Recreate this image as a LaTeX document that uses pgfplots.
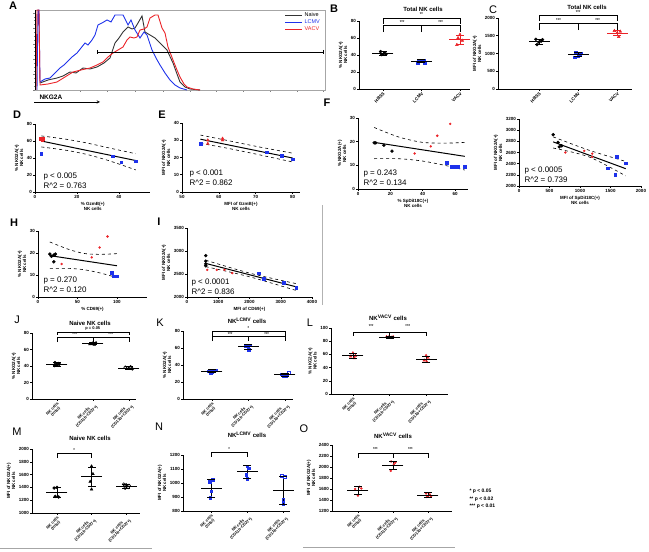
\documentclass[border=0pt]{standalone}
\usepackage{fontspec}
\setmainfont{Liberation Sans}
\usepackage{pgfplots}
\pgfplotsset{compat=1.18}
\definecolor{gpblue}{RGB}{30,50,235}
\definecolor{gpred}{RGB}{235,35,40}
\newcommand\tk{\fontsize{4.5}{5}\selectfont\bfseries}
\newcommand\tkc{\fontsize{4}{4.3}\selectfont\bfseries}
\newcommand\pv{\fontsize{8}{8.5}\selectfont}
\newcommand\ttl{\fontsize{6}{7}\selectfont\bfseries}
\newcommand\st{\fontsize{4}{4}\selectfont\bfseries}
\newcommand\lt{\fontsize{11}{11}\selectfont\bfseries}
\newcommand\ltn{\fontsize{11}{11}\selectfont}
\pgfplotsset{
 gp/.style={scale only axis, anchor=south west, clip=false, axis lines*=left,
   axis line style={-, line width=0.7pt}, tick align=outside, major tick length=2pt,
   every tick/.style={black, line width=0.5pt}, tick label style={font=\tk},
   label style={font=\tk}, xlabel style={align=center, yshift=1pt},
   ylabel style={align=center, yshift=-1pt},
   /pgf/number format/assume math mode=true, /pgf/number format/1000 sep={},
   xticklabel style={inner sep=1pt}, yticklabel style={inner sep=1pt}},
 cat/.style={gp, xtick={0,1,2}, xticklabel style={rotate=45, anchor=north east, align=center, inner sep=0.5pt, font=\tkc}},
 hb/.style={only marks, mark=*, mark size=1.5pt, black},
 hbo/.style={only marks, mark=o, mark size=1.5pt, black, mark options={line width=0.5pt}},
 hbt/.style={only marks, mark=triangle*, mark size=1.6pt, black},
 lc/.style={only marks, mark=square*, mark size=1.3pt, gpblue},
 lco/.style={only marks, mark=square, mark size=1.3pt, gpblue, mark options={line width=0.6pt}},
 va/.style={only marks, mark=triangle*, mark size=1.6pt, gpred},
 vas/.style={only marks, mark=*, mark size=1pt, gpred},
 reg/.style={no marks, line width=1pt, black},
 ci/.style={no marks, dashed, line width=0.6pt, black, smooth},
}
\newcommand\grp[5]{%
  \addplot[#5, no marks, line width=0.7pt] coordinates {(#1,#3) (#1,#4)};
  \addplot[#5, only marks, mark=-, mark size=4pt, mark options={line width=0.7pt}] coordinates {(#1,#3) (#1,#4)};
  \addplot[#5, only marks, mark=-, mark size=10.5pt, mark options={line width=0.7pt}] coordinates {(#1,#2)};
}
\newcommand\brk[4]{\draw[line width=0.5pt] (axis cs:#1,#4) -- (axis cs:#1,#3) -- (axis cs:#2,#3) -- (axis cs:#2,#4);}
\newcommand\sg[3]{\node[font=\st, inner sep=0pt] at (axis cs:#1,#2) {#3};}
\newcommand\nkl{{NK cells\\(total)},{NK cells\\(CD11b-CD27+)},{NK cells\\(CD11b+CD27+)}}
\begin{document}
\begin{tikzpicture}
\path[use as bounding box] (0pt,0pt) rectangle (649pt,552pt);

% ---------------- A
\begin{axis}[at={(35pt,462pt)}, anchor=south west, scale only axis, width=290pt, height=80pt,
  xmin=35, xmax=325, ymin=0, ymax=80, axis line style={gray!70, line width=0.5pt},
  tick pos=left, tick align=outside, xticklabels={}, yticklabels={},
  ytick={0,15.4,30.8,46.2,61.6,77}, minor y tick num=3,
  xtick={80,107,135,163,190,216,243,270,297,323}, major tick length=2pt, minor tick length=1.2pt,
  every tick/.style={gray, line width=0.4pt}, clip=false,
  legend style={at={(rel axis cs:0.99,0.99)}, anchor=north east, draw=none, fill=none,
    font=\fontsize{5.5}{6}\selectfont, row sep=-2.5pt, inner sep=0pt},
  legend cell align=left]
\addplot[black!80, line width=0.9pt] coordinates {(40,7) (48,10) (57,12) (63,14) (70,18) (76,17) (83,22) (90,21) (97,23) (104,27) (110,32) (115,47) (119,52) (123,58) (128,63) (132,61) (135,62) (138,67) (142,74) (145,58) (150,55) (155,52) (160,47) (167,40) (173,27) (177,16) (180,8) (185,3) (190,1) (200,0)};
\addplot[gpblue, line width=0.9pt] coordinates {(37,0) (38,80) (39,80) (40,8) (45,11) (50,12) (55,17) (60,22) (64,25) (67,28) (72,33) (77,37) (81,42) (85,47) (88,45) (92,50) (95,55) (98,65) (102,67) (107,70) (111,68) (115,75) (119,75) (123,75) (128,65) (131,70) (135,60) (140,52) (144,58) (147,55) (152,40) (156,32) (160,25) (165,17) (170,10) (175,5) (180,2) (187,0)};
\addplot[gpred, line width=0.9pt] coordinates {(36,0) (37,80) (39,80) (40,5) (48,6) (57,8) (65,13) (73,18) (81,20) (90,22) (97,25) (103,28) (108,33) (113,37) (118,40) (123,43) (127,50) (130,53) (134,52) (137,53) (140,60) (144,61) (147,63) (150,72) (155,75) (158,75) (162,62) (165,57) (168,43) (173,30) (177,20) (180,13) (184,6) (187,3) (193,1) (200,0)};
\addplot[black, line width=0.6pt, mark=|, mark size=2pt, forget plot] coordinates {(97,38) (323,38)};
\legend{Naive,\textcolor{gpblue}{LCMV},\textcolor{gpred}{VACV}}
\draw[black, line width=0.8pt] (axis cs:35,0) -- (axis cs:35,80);
\end{axis}
\node[font=\fontsize{6.5}{7}\selectfont\bfseries, anchor=west] at (36pt,455pt) {NKG2A};
\draw[-stealth, line width=0.5pt] (34pt,450pt) -- (100pt,450pt);

% ---------------- B
\begin{axis}[cat, at={(359pt,463pt)}, width=111pt, height=68pt, xmin=-0.62, xmax=2.26,
  ymin=0, ymax=80, ytick={0,20,...,80}, xticklabels={HBSS,LCMV,VACV},
  xticklabel style={font=\tk},
  ylabel={\% NKG2A(+)\\NK cells}]
\addplot[hb] coordinates {(-0.06,44) (0.04,42.5) (0.08,41) (-0.03,40.5)};
\grp{0}{42}{40}{44}{black}
\addplot[lc] coordinates {(0.93,34) (1.06,33.5) (1.0,33) (1.08,30.5) (0.9,31)};
\grp{1}{33}{31.5}{34.5}{black}
\addplot[va] coordinates {(2,64) (1.95,60) (2.06,57) (1.92,52)};
\grp{2}{58}{52.5}{63.5}{gpred}
\brk{0}{2}{83.5}{76.5}
\brk{0}{1}{75.3}{67}
\brk{1}{2}{75.3}{67}
\sg{1}{88}{**}
\sg{0.5}{79}{***}
\sg{1.5}{79}{***}
\end{axis}
\node[font=\ttl] at (423pt,543pt) {Total NK cells};

% ---------------- C
\begin{axis}[cat, at={(498pt,463pt)}, width=134pt, height=71pt, xmin=-1.05, xmax=2.38,
  ymin=0, ymax=2000, ytick={0,500,...,2000}, xticklabels={HBSS,LCMV,VACV},
  xticklabel style={font=\tk},
  ylabel={MFI of NKG2A(+)\\NK cells}]
\addplot[hb] coordinates {(-0.08,1400) (0.06,1350) (0.0,1320) (-0.05,1250) (0.09,1390)};
\grp{0}{1330}{1260}{1400}{black}
\addplot[lc] coordinates {(0.94,1030) (1.08,1010) (1.0,940) (0.91,900) (1.05,990)};
\grp{1}{970}{910}{1030}{black}
\addplot[va] coordinates {(1.93,1640) (2.08,1620) (2.0,1580) (2.04,1470)};
\grp{2}{1580}{1500}{1650}{gpred}
\brk{0}{2}{2085}{1915}
\brk{0}{1}{1860}{1660}
\brk{1}{2}{1860}{1660}
\sg{1}{2170}{***}
\sg{0.5}{1945}{***}
\sg{1.5}{1945}{***}
\end{axis}
\node[font=\ttl] at (587pt,545pt) {Total NK cells};

% ---------------- D
\begin{axis}[gp, at={(35pt,360pt)}, width=115.5pt, height=68pt, xmin=0, xmax=55,
  ymin=0, ymax=80, xtick={0,20,40}, ytick={0,20,...,80},
  xlabel={\% GzmB(+)\\NK cells}, ylabel={\% NKG2A(+)\\NK cells}]
\addplot[ci] coordinates {(3,66) (15,62) (25,57.5) (35,52) (48,45)};
\addplot[ci] coordinates {(3,53) (15,49) (25,44) (35,37) (48,26)};
\addplot[reg] coordinates {(3,60) (48,37)};
\addplot[only marks, mark=square*, mark size=1.2pt, gpred] coordinates {(2.5,62.5) (3.5,61.5) (4,62.5)};
\addplot[lc] coordinates {(3,45) (37,42) (41,35) (48,36)};
\end{axis}
\node[anchor=west, font=\pv] at (40pt,375pt) {p < 0.005};
\node[anchor=west, font=\pv] at (40pt,366pt) {R\textasciicircum 2 = 0.763};

% ---------------- E
\begin{axis}[gp, at={(182pt,360pt)}, width=118pt, height=69pt, xmin=50, xmax=82,
  ymin=0, ymax=40, xtick={50,60,70,80}, ytick={0,10,...,40},
  xlabel={MFI of GzmB(+)\\NK cells}, ylabel={MFI of NKG2A(+)\\NK cells}]
\addplot[ci] coordinates {(55,33) (62,30) (70,26.5) (80,22.5)};
\addplot[ci] coordinates {(55,28.2) (62,25.5) (70,22) (80,17.4)};
\addplot[reg] coordinates {(55,30.6) (80,19.7)};
\addplot[lc] coordinates {(55,28) (73,23) (77,21) (80,19)};
\addplot[va] coordinates {(57,30) (57,28) (61,30) (61,31)};
\end{axis}
\node[anchor=west, font=\pv] at (186pt,378pt) {p < 0.001};
\node[anchor=west, font=\pv] at (186pt,369pt) {R\textasciicircum 2 = 0.862};

% ---------------- F
\begin{axis}[gp, at={(358pt,363pt)}, width=110pt, height=71pt, xmin=0, xmax=68,
  ymin=0, ymax=30, xtick={0,20,40,60}, ytick={0,10,20,30},
  xlabel={\% SpDiI18C(+)\\NK cells}, ylabel={\% NKG2A(+)\\NK cells}]
\addplot[ci] coordinates {(10,26) (25,22) (40,19.7) (55,19.4) (66,19.7)};
\addplot[ci] coordinates {(10,12.8) (25,12.8) (40,11.8) (55,9.8) (66,8)};
\addplot[reg] coordinates {(10,19.7) (66,13.8)};
\addplot[hb] coordinates {(10,19.5) (11,19.5) (16,18.5) (21,16)};
\addplot[vas] coordinates {(35,15) (45,18) (49,22.5) (57,27.5)};
\addplot[lc] coordinates {(55,11) (58,9.5) (60,9.5) (62,9.5) (66,9.5)};
\end{axis}
\node[anchor=west, font=\pv] at (360pt,378pt) {p = 0.243};
\node[anchor=west, font=\pv] at (360pt,369pt) {R\textasciicircum 2 = 0.134};

% ---------------- G
\begin{axis}[gp, at={(519pt,366pt)}, width=122pt, height=67pt, xmin=0, xmax=2000,
  ymin=2000, ymax=3200, xtick={0,500,...,2000}, ytick={2000,2200,...,3200},
  xlabel={MFI of SpDiI18C(+)\\NK cells}, ylabel={MFI of NKG2A(+)\\NK cells}]
\addplot[ci] coordinates {(560,2880) (1150,2640) (1750,2440)};
\addplot[ci] coordinates {(560,2680) (1150,2520) (1750,2180)};
\addplot[reg] coordinates {(560,2790) (1750,2310)};
\addplot[hb] coordinates {(560,2920) (640,2780) (660,2700) (700,2720)};
\addplot[vas] coordinates {(760,2600) (1070,2630) (1200,2580) (1200,2520)};
\addplot[lc] coordinates {(1450,2320) (1580,2200) (1600,2520) (1750,2410)};
\end{axis}
\node[anchor=west, font=\pv] at (521pt,381pt) {p < 0.0005};
\node[anchor=west, font=\pv] at (521pt,372pt) {R\textasciicircum 2 = 0.739};

% ---------------- H
\begin{axis}[gp, at={(38pt,255pt)}, width=109pt, height=66pt, xmin=0, xmax=138,
  ymin=0, ymax=30, xtick={0,50,100}, ytick={0,10,20,30},
  xlabel={\% CD69(+)}, ylabel={\% NKG2A(+)\\NK cells}]
\addplot[ci] coordinates {(15,25) (40,21.5) (60,19.7) (80,19.4) (100,19.7)};
\addplot[ci] coordinates {(15,13) (40,13) (60,12.3) (80,10.8) (100,8.8)};
\addplot[reg] coordinates {(15,18.8) (100,14.2)};
\addplot[hb] coordinates {(15,19.5) (17,18.5) (20,19) (22,19.5) (20,16)};
\addplot[vas] coordinates {(30,15) (68,18) (78,22.5) (88,27.5)};
\addplot[lc] coordinates {(93,11) (95,9.5) (97,9.5) (100,9.5)};
\end{axis}
\node[anchor=west, font=\pv] at (40pt,271pt) {p = 0.270};
\node[anchor=west, font=\pv] at (40pt,262pt) {R\textasciicircum 2 = 0.120};

% ---------------- I
\begin{axis}[gp, at={(187pt,255pt)}, width=125pt, height=69pt, xmin=0, xmax=4000,
  ymin=2000, ymax=3500, xtick={0,1000,...,4000}, ytick={2000,2500,3000,3500},
  xlabel={MFI of CD69(+)}, ylabel={MFI of NKG2A(+)\\NK cells}]
\addplot[ci] coordinates {(600,2800) (2000,2520) (3500,2290)};
\addplot[ci] coordinates {(600,2660) (2000,2440) (3500,2140)};
\addplot[reg] coordinates {(600,2730) (3500,2220)};
\addplot[hb] coordinates {(600,2900) (600,2780) (600,2720) (600,2680)};
\addplot[vas] coordinates {(650,2590) (950,2590) (1200,2590) (1450,2520)};
\addplot[lc] coordinates {(2300,2520) (2450,2400) (3100,2310) (3500,2200)};
\end{axis}
\node[anchor=west, font=\pv] at (188pt,269pt) {p < 0.0001};
\node[anchor=west, font=\pv] at (188pt,260pt) {R\textasciicircum 2 = 0.836};

\draw[gray!60, line width=0.6pt] (322pt,247pt) -- (322pt,347pt);

% ---------------- J
\begin{axis}[cat, at={(32pt,153pt)}, width=104pt, height=66pt, xmin=-0.69, xmax=2.2,
  ymin=0, ymax=80, ytick={0,20,...,80},
  xticklabels/.expand once=\nkl,
  ylabel={\% NKG2A(+)\\NK cells}]
\addplot[hb] coordinates {(-0.05,44) (0.05,43) (0.0,41) (-0.06,40.5) (0.07,42)};
\grp{0}{42}{40}{44.5}{black}
\addplot[hbt] coordinates {(0.92,66.5) (0.98,67) (1.04,66) (1.09,68) (1.0,67.5)};
\grp{1}{67}{66}{68.3}{black}
\addplot[hbo] coordinates {(1.9,38.5) (1.97,37.5) (2.05,39) (2.1,36.5)};
\grp{2}{37.5}{36}{39}{black}
\brk{0}{2}{81.2}{77.6}
\brk{0}{1}{75.2}{69}
\brk{1}{2}{75.2}{69}
\sg{0.5}{78.4}{***}
\sg{1.5}{78.4}{***}
\node[font=\st, inner sep=0pt] at (axis cs:1,85.5) {p = 0.05};
\end{axis}
\node[font=\ttl] at (90pt,229pt) {Naive NK cells};

% ---------------- K
\begin{axis}[cat, at={(183pt,153pt)}, width=110pt, height=68pt, xmin=-0.79, xmax=2.22,
  ymin=0, ymax=80, ytick={0,20,...,80},
  xticklabels/.expand once=\nkl,
  ylabel={\% NKG2A(+)\\NK cells}]
\addplot[lc] coordinates {(-0.1,32.5) (-0.03,30.5) (0.04,33.5) (0.1,34) (0.0,32)};
\grp{0}{33}{31}{35}{black}
\addplot[lc] coordinates {(0.92,63) (0.98,62) (1.05,63.5) (1.0,58)};
\grp{1}{61.5}{58.5}{64}{black}
\addplot[lco] coordinates {(1.9,29) (1.96,26.5) (2.03,27) (2.1,30.5) (2.06,28)};
\grp{2}{28.5}{26.5}{30.5}{black}
\brk{0}{2}{80}{74}
\brk{0}{1}{74}{68}
\brk{1}{2}{74}{68}
\sg{1}{83}{*}
\sg{0.5}{76.5}{***}
\sg{1.5}{76.5}{***}
\end{axis}
\node[font=\ttl] at (247pt,231pt) {NK\textsuperscript{LCMV} cells};

% ---------------- L
\begin{axis}[cat, at={(331pt,158pt)}, width=117pt, height=66pt, xmin=-0.6, xmax=2.6,
  ymin=0, ymax=100, ytick={0,20,...,100},
  xticklabels/.expand once=\nkl,
  ylabel={\% NKG2A(+)\\NK cells}]
\addplot[va] coordinates {(0,62) (0.07,58) (-0.06,57) (0.04,54.5)};
\grp{0}{58}{54}{62}{black}
\addplot[va] coordinates {(0.92,86.5) (0.98,86) (1.05,85.5) (1.1,86.5)};
\grp{1}{86}{85}{87}{black}
\addplot[va] coordinates {(2,58) (2.05,55) (1.95,51) (2.02,48.5)};
\grp{2}{53}{48.5}{57.5}{black}
\brk{0}{1}{94}{88}
\brk{1}{2}{94}{88}
\sg{0.5}{103}{***}
\sg{1.5}{103}{***}
\end{axis}
\node[font=\ttl] at (388pt,234pt) {NK\textsuperscript{VACV} cells};

% ---------------- M
\begin{axis}[cat, at={(32pt,39pt)}, width=108pt, height=64pt, xmin=-0.72, xmax=2.4,
  ymin=1000, ymax=2000, ytick={1000,1200,...,2000},
  xticklabels/.expand once=\nkl,
  ylabel={MFI of NKG2A(+)\\NK cells}]
\addplot[hb] coordinates {(0,1400) (-0.08,1390) (0.05,1250) (-0.05,1260)};
\grp{0}{1325}{1250}{1400}{black}
\addplot[hbt] coordinates {(1,1730) (1.04,1610) (0.96,1490) (1,1370)};
\grp{1}{1565}{1410}{1720}{black}
\addplot[hbo] coordinates {(1.93,1450) (2.0,1440) (2.06,1400) (1.97,1390) (2.08,1430)};
\grp{2}{1420}{1385}{1455}{black}
\brk{0}{1}{1937}{1859}
\sg{0.5}{1990}{*}
\end{axis}
\node[font=\ttl] at (90pt,114pt) {Naive NK cells};

% ---------------- N
\begin{axis}[cat, at={(183pt,41pt)}, width=107pt, height=56pt, xmin=-0.78, xmax=2.19,
  ymin=800, ymax=1200, ytick={800,900,...,1200},
  xticklabels/.expand once=\nkl,
  ylabel={MFI of NKG2A(+)\\NK cells}]
\addplot[lc] coordinates {(0.04,1025) (-0.04,1010) (0.0,940) (-0.02,895)};
\grp{0}{965}{900}{1025}{black}
\addplot[lc] coordinates {(1.0,1120) (1.05,1105) (0.97,1060) (1.0,1030)};
\grp{1}{1080}{1035}{1125}{black}
\addplot[lco] coordinates {(1.96,1050) (2.04,1045) (2.0,880) (2.0,850)};
\grp{2}{950}{850}{1050}{black}
\brk{0}{1}{1221}{1186}
\sg{0.5}{1245}{*}
\end{axis}
\node[font=\ttl] at (247pt,117pt) {NK\textsuperscript{LCMV} cells};

% ---------------- O
\begin{axis}[cat, at={(332pt,41pt)}, width=120pt, height=66pt, xmin=-0.74, xmax=2.69,
  ymin=1200, ymax=2400, ytick={1200,1400,...,2400},
  xticklabels/.expand once=\nkl,
  ylabel={MFI of NKG2A(+)\\NK cells}]
\addplot[vas] coordinates {(0.05,1640) (-0.08,1600) (0.1,1610) (0.0,1480)};
\grp{0}{1576}{1500}{1650}{black}
\addplot[vas] coordinates {(0.95,2100) (1.07,2080) (1.03,2050) (0.94,1930)};
\grp{1}{2030}{1950}{2110}{black}
\addplot[vas] coordinates {(1.95,1520) (2.06,1500) (2.0,1470) (2.09,1460) (1.97,1455)};
\grp{2}{1485}{1440}{1530}{black}
\brk{0}{1}{2255}{2164}
\brk{1}{2}{2255}{2164}
\sg{0.5}{2320}{***}
\sg{1.5}{2320}{***}
\end{axis}
\node[font=\ttl] at (393pt,116pt) {NK\textsuperscript{VACV} cells};

\node[anchor=west, font=\fontsize{5}{7.5}\selectfont\bfseries, align=left] at (466pt,53pt) {* p < 0.05\\** p < 0.02\\*** p < 0.01};

\draw[gray!70, line width=0.6pt] (0pt,4pt) -- (152pt,4pt);
\draw[gray!70, line width=0.6pt] (303pt,5pt) -- (455pt,5pt);

% panel letters
\node[font=\lt] at (13pt,546pt) {A};
\node[font=\lt] at (334pt,543pt) {B};
\node[font=\ltn] at (493pt,542pt) {C};
\node[font=\lt] at (17pt,437pt) {D};
\node[font=\lt] at (162pt,437pt) {E};
\node[font=\lt] at (327pt,449pt) {F};
\node[font=\lt] at (14pt,329pt) {H};
\node[font=\lt] at (159pt,330pt) {I};
\node[font=\ltn] at (17pt,232pt) {J};
\node[font=\ltn] at (160pt,229pt) {K};
\node[font=\ltn] at (310pt,229pt) {L};
\node[font=\ltn] at (17pt,120pt) {M};
\node[font=\ltn] at (159pt,125pt) {N};
\node[font=\ltn] at (304pt,123pt) {O};
\end{tikzpicture}
\end{document}
